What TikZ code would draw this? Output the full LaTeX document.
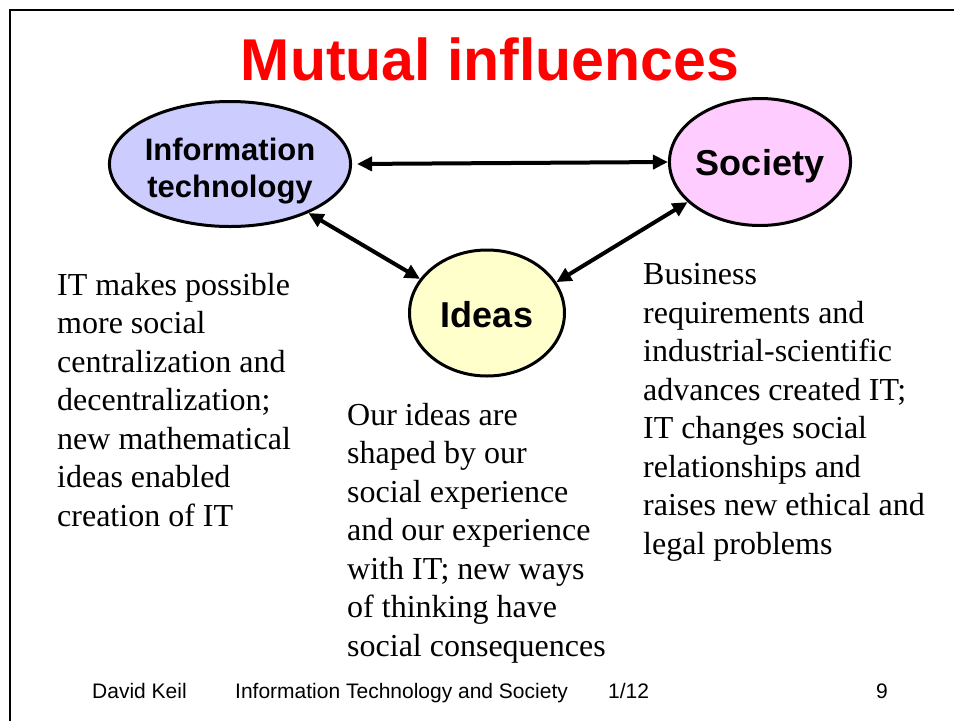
\documentclass[tikz,border=0pt]{standalone}
\usepackage{fontspec}
\setmainfont{Liberation Serif}
\setsansfont{Liberation Sans}
\usetikzlibrary{shapes.geometric,arrows.meta}
\definecolor{itblue}{RGB}{204,204,255}
\definecolor{socpink}{RGB}{255,204,255}
\definecolor{ideayellow}{RGB}{255,255,204}
\begin{document}
\begin{tikzpicture}[x=1pt,y=-1pt,
  concept/.style={draw, ellipse, line width=3pt, inner sep=0pt, align=center},
  link/.style={line width=4pt, {Triangle[length=15pt,width=14pt]}-{Triangle[length=15pt,width=14pt]}},
  note/.style={anchor=base west, align=left, inner sep=0pt, font=\fontsize{32}{38.5}\selectfont},
  foot/.style={anchor=base west, inner sep=0pt, font=\sffamily\fontsize{21}{24}\selectfont}]
\useasboundingbox (0,0) rectangle (954,721);
\draw[line width=2pt] (10,721) -- (10,10) -- (954,10);
\node[anchor=base, text=red, font=\sffamily\bfseries\fontsize{59}{60}\selectfont] (title) at (490,80) {Mutual influences};
% the three ellipses
\node[concept, fill=itblue, minimum width=233pt, minimum height=125pt, font=\sffamily\bfseries\fontsize{31}{37}\selectfont] (it) at (230,164) {\raisebox{4pt}[0pt][0pt]{\begin{tabular}[t]{@{}c@{}}Information\\technology\end{tabular}}};
\node[concept, fill=socpink, minimum width=153pt, minimum height=127pt, font=\sffamily\bfseries\fontsize{36}{40}\selectfont] (soc) at (760,162) {\raisebox{-13pt}[0pt][0pt]{Society}};
\node[concept, fill=ideayellow, minimum width=155pt, minimum height=126pt, font=\sffamily\bfseries\fontsize{36}{40}\selectfont] (ideas) at (487,313) {\raisebox{-14pt}[0pt][0pt]{Ideas}};
\draw[link, shorten <=5pt] (it.east) -- (soc.west);
\draw[link] (it.-32) -- (ideas.153);
\draw[link] (ideas.24) -- (soc.209);
% explanations (base = last line)
\node[note] (left) at (57,526) {IT makes possible\\more social\\centralization and\\decentralization;\\new mathematical\\ideas enabled\\creation of IT};
\node[note] (mid) at (347,656) {Our ideas are\\shaped by our\\social experience\\and our experience\\with IT; new ways\\of thinking have\\social consequences};
\node[note] (right) at (643,554) {Business\\requirements and\\industrial-scientific\\advances created IT;\\IT changes social\\relationships and\\raises new ethical and\\legal problems};
% footer
\node[foot] (author) at (92,698) {David Keil};
\node[foot] (course) at (235,698) {Information Technology and Society};
\node[foot] (date) at (608,698) {1/12};
\node[foot] (page) at (876,698) {9};
\end{tikzpicture}
\end{document}
